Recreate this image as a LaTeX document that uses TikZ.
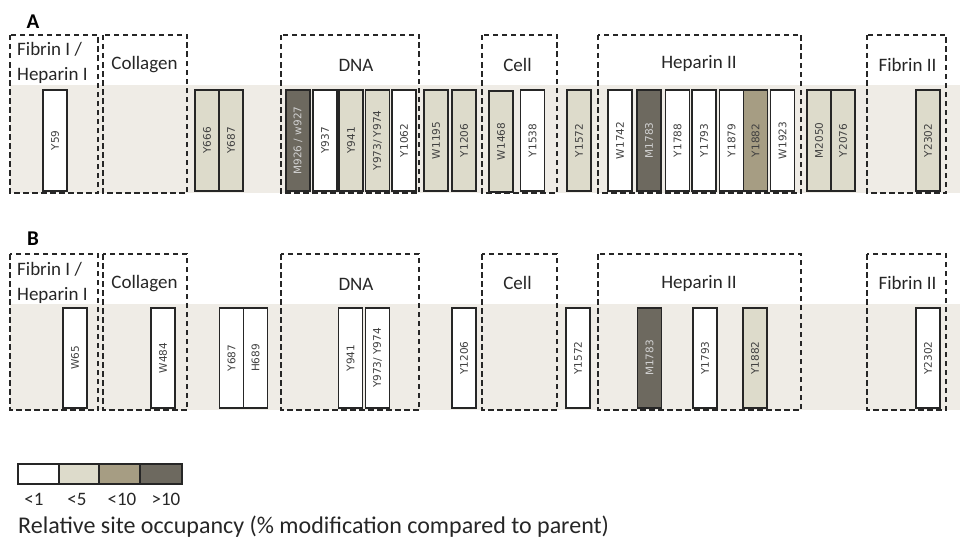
\documentclass[tikz,border=0pt]{standalone}
\usepackage{fontspec}
\setmainfont{Carlito}
\newfontfamily\boxfont{DejaVu Sans}
\definecolor{band}{HTML}{EFECE6}
\definecolor{cLight}{HTML}{DDDBCB}
\definecolor{cTan}{HTML}{A69D83}
\definecolor{cDark}{HTML}{6D695F}
\definecolor{edge}{HTML}{262626}
\begin{document}
\begin{tikzpicture}[x=1pt,y=-1pt,
  region/.style={draw=edge, line width=1.6pt, dash pattern=on 5.5pt off 3.5pt},
  site/.style={draw=edge, line width=1.4pt, rotate=90, minimum width=101pt, minimum height=24pt, inner sep=0pt,
    font=\boxfont\fontsize{10.5}{11}\selectfont, text=black!75},
  siteB/.style={site, minimum width=100pt},
  wbox/.style={fill=white},
  lbox/.style={fill=cLight},
  tbox/.style={fill=cTan},
  dbox/.style={fill=cDark, text=black!18},
  lab/.style={font=\fontsize{19}{25}\selectfont, text=black!85, inner sep=0pt},
  panel/.style={font=\bfseries\fontsize{21}{22}\selectfont, inner sep=0pt},
  leg/.style={font=\fontsize{19}{20}\selectfont, text=black!85, inner sep=0pt},
]
\useasboundingbox (0,0) rectangle (960,543);

% ---------------- Panel A ----------------
\node[panel] (pA) at (33,22) {A};
\fill[band] (10,85) rectangle (960,193);

\node[site,wbox] (a59) at (55,140.5) {Y59};
\node[site,lbox] (a666) at (207,140.5) {Y666};
\node[site,lbox] (a687) at (231,140.5) {Y687};
\node[site,dbox] (a926) at (298,140.5) {M926 / w927};
\node[site,wbox] (a937) at (325,140.5) {Y937};
\node[site,lbox] (a941) at (351,140.5) {Y941};
\node[site,lbox] (a973) at (377.5,140.5) {Y973/ Y974};
\node[site,wbox] (a1062) at (404,140.5) {Y1062};
\node[site,lbox] (a1195) at (436,140.5) {W1195};
\node[site,lbox] (a1206) at (464,140.5) {Y1206};
\node[site,lbox] (a1468) at (501,141.5) {W1468};
\node[site,wbox] (a1538) at (532.5,140.5) {Y1538};
\node[site,lbox] (a1572) at (579,140.5) {Y1572};
\node[site,wbox] (a1742) at (620,140.5) {W1742};
\node[site,dbox] (a1783) at (649,140.5) {M1783};
\node[site,wbox] (a1788) at (677.5,140.5) {Y1788};
\node[site,wbox] (a1793) at (704,140.5) {Y1793};
\node[site,wbox] (a1879) at (731.5,140.5) {Y1879};
\node[site,tbox] (a1882) at (755.5,140.5) {Y1882};
\node[site,wbox] (a1923) at (782.5,140.5) {W1923};
\node[site,lbox] (a2050) at (819,140.5) {M2050};
\node[site,lbox] (a2076) at (843,140.5) {Y2076};
\node[site,lbox] (a2302) at (928,140.5) {Y2302};

\draw[region] (10,35) rectangle (98,193);
\draw[region] (103,35) rectangle (187,193);
\draw[region] (281,35) rectangle (419,193);
\draw[region] (482,35) rectangle (557,193);
\draw[region] (598,35) rectangle (801,193);
\draw[region] (867,35) rectangle (946,193);

\node[lab,align=left,anchor=west] (tA1) at (17,63) {Fibrin I /\\Heparin I};
\node[lab] (tA2) at (144.5,65) {Collagen};
\node[lab] (tA3) at (356,65) {DNA};
\node[lab] (tA4) at (517.5,65) {Cell};
\node[lab] (tA5) at (699,63) {Heparin II};
\node[lab] (tA6) at (907.5,65) {Fibrin II};

% ---------------- Panel B ----------------
\node[panel] (pB) at (33,239) {B};
\fill[band] (10,304) rectangle (960,410);

\node[siteB,wbox] (b65) at (75,358) {W65};
\node[siteB,wbox] (b484) at (163,358) {W484};
\node[siteB,wbox] (b687) at (231.5,358) {Y687};
\node[siteB,wbox] (b689) at (255.5,358) {H689};
\node[siteB,wbox] (b941) at (350.5,358) {Y941};
\node[siteB,wbox] (b973) at (377.5,358) {Y973/ Y974};
\node[siteB,wbox] (b1206) at (464,358) {Y1206};
\node[siteB,wbox] (b1572) at (578,358) {Y1572};
\node[siteB,dbox] (b1783) at (649.5,358) {M1783};
\node[siteB,wbox] (b1793) at (705,358) {Y1793};
\node[siteB,lbox] (b1882) at (755,358) {Y1882};
\node[siteB,wbox] (b2302) at (928,358) {Y2302};

\draw[region] (10,254) rectangle (98,410);
\draw[region] (103,254) rectangle (187,410);
\draw[region] (281,254) rectangle (419,410);
\draw[region] (482,254) rectangle (557,410);
\draw[region] (598,254) rectangle (801,410);
\draw[region] (867,254) rectangle (946,410);

\node[lab,align=left,anchor=west] (tB1) at (17,283) {Fibrin I /\\Heparin I};
\node[lab] (tB2) at (144.5,284) {Collagen};
\node[lab] (tB3) at (356,284) {DNA};
\node[lab] (tB4) at (517.5,283) {Cell};
\node[lab] (tB5) at (699,283) {Heparin II};
\node[lab] (tB6) at (907.5,283) {Fibrin II};

% ---------------- Legend ----------------
\draw[draw=edge, line width=1.4pt, fill=white] (18,464) rectangle (59,484);
\draw[draw=edge, line width=1.4pt, fill=cLight] (59,464) rectangle (99,484);
\draw[draw=edge, line width=1.4pt, fill=cTan] (99,464) rectangle (140,484);
\draw[draw=edge, line width=1.4pt, fill=cDark] (140,464) rectangle (182,484);
\node[leg] (l1) at (34,499) {<1};
\node[leg] (l2) at (77,499) {<5};
\node[leg] (l3) at (122,499) {<10};
\node[leg] (l4) at (166,499) {>10};
\node[lab,font=\fontsize{24}{28}\selectfont,anchor=west] (title) at (18,527) {Relative site occupancy (\% modification compared to parent)};
\end{tikzpicture}
\end{document}
